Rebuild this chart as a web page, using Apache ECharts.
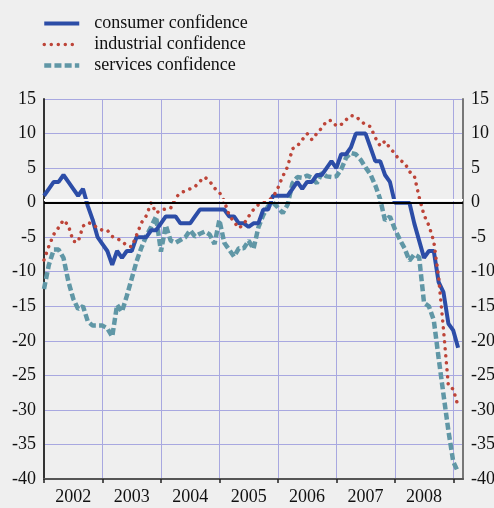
<!DOCTYPE html>
<html>
<head>
<meta charset="utf-8">
<script src="https://cdn.jsdelivr.net/npm/echarts@6/dist/echarts.min.js"></script>
<style>
  html, body { margin: 0; padding: 0; background: #efefef; }
  #chart { width: 494px; height: 508px; }
</style>
</head>
<body>
<div id="chart"></div>
<script>
// Monthly confidence indicators, Jan 2002 onward (balance of responses)
var years = ['2002', '2003', '2004', '2005', '2006', '2007', '2008'];

var consumer = [
  1, 2, 3, 3, 4, 3, 2, 1, 2, -0.5, -2.5, -5,
  -6, -7, -9, -7, -8, -7, -7, -5, -5, -5, -4, -4,
  -3, -2, -2, -2, -3, -3, -3, -2, -1, -1, -1, -1,
  -1, -1, -2, -2, -3, -3, -3.5, -3, -3, -1, -1, 1,
  1, 1, 1, 2, 3, 2, 3, 3, 4, 4, 5, 6,
  5, 7, 7, 8, 10, 10, 10, 8, 6, 6, 4, 3,
  0, 0, 0, 0, -3, -5.5, -8, -7, -7, -11.5, -13, -17.5,
  -18.5, -21
];

var industrial = [
  -8.3, -6.3, -4.6, -3.6, -2.5, -3.3, -5.6, -5.7, -3.4, -2.9, -3.1, -3.7,
  -4.0, -4.0, -4.9, -5.2, -5.6, -6.2, -6.4, -4.7, -2.9, -1.9, 0, -1.5,
  -1.1, -0.9, -0.8, 0.7, 1.4, 1.7, 2.0, 2.3, 3.1, 3.7, 3.1, 2.1,
  1.5, 0.2, -1.8, -2.8, -3.7, -3.1, -2.0, -1.0, -0.3, 0, 0.3, 0.8,
  2.1, 3.8, 5.2, 7.8, 8.2, 9.1, 10, 9.1, 10, 10.8, 11.8, 11.9,
  11.1, 11.3, 12.0, 12.6, 12.5, 11.8, 11.3, 11.0, 9.4, 8.2, 8.9, 7.9,
  7.1, 6.1, 5.8, 4.5, 3.9, 0.8, -1.8, -3.3, -5.6, -10.8, -18.4, -26.5,
  -27, -29.5
];

var services = [
  -12.5, -9.0, -6.8, -6.8, -8.0, -11.4, -13.9, -15.4, -15.0, -17.2, -17.8, -17.8,
  -17.8, -18.2, -19.4, -14.8, -15.8, -13.5, -11.0, -8.5, -6.5, -4.8, -3.5, -2.0,
  -7.1, -3.3, -5.5, -5.8, -5.4, -5.0, -4.0, -4.9, -4.5, -4.2, -4.6, -6.0,
  -2.5, -5.8, -6.8, -7.8, -6.6, -6.6, -5.5, -6.7, -3.6, -1.8, -0.5, 0,
  -0.7, -1.5, -0.3, 2.8, 3.7, 3.6, 3.9, 3.6, 2.8, 4.3, 3.8, 3.7,
  3.8, 4.8, 6.5, 7.2, 7.0, 6.2, 5.1, 4.1, 2.5, 0.5, -2.6, -2.0,
  -3.8, -5.3, -6.6, -8.4, -7.5, -7.9, -14.5, -15.0, -17.0, -22.5, -27.8, -33.0,
  -37.5, -39.0
];

var yTicks = { min: -40, max: 15, step: 5 };

function toPoints(arr) {
  return arr.map(function (v, i) { return [i, v]; });
}

// year boundaries (in months) and mid-year label positions
var yearStarts = years.map(function (y, k) { return k * 12; }).concat([years.length * 12]);
var yearMids = years.map(function (y, k) { return k * 12 + 6; });

var serif = 'Liberation Serif, Times New Roman, serif';
var gridColor = '#a8a8e0';

var chart = echarts.init(document.getElementById('chart'), null, { renderer: 'canvas' });

chart.setOption({
  backgroundColor: '#efefef',
  animation: false,
  grid: { left: 44, right: 31, top: 99, bottom: 29, outerBoundsMode: 'none' },
  legend: {
    orient: 'vertical',
    left: 42,
    top: 13,
    padding: 0,
    itemWidth: 35,
    itemHeight: 21,
    itemGap: 0,
    itemStyle: { opacity: 0 },
    lineStyle: { width: 'inherit' },
    data: ['consumer confidence', 'industrial confidence', 'services confidence'],
    textStyle: { fontFamily: serif, fontSize: 18, color: '#111', padding: [0, 0, 0, 10], lineHeight: 21 }
  },
  xAxis: {
    type: 'value',
    min: 0,
    max: 86,
    axisLine: { show: true, onZero: false, lineStyle: { color: '#555', width: 2 } },
    axisTick: { show: true, customValues: yearStarts, length: 4, lineStyle: { color: '#222', width: 1.5 } },
    axisLabel: {
      customValues: yearMids,
      margin: 9,
      fontFamily: serif, fontSize: 18, color: '#111',
      formatter: function (v) { return years[Math.round((v - 6) / 12)]; }
    },
    splitLine: { show: true, lineStyle: { color: gridColor, width: 1 } }
  },
  yAxis: [
    {
      type: 'value', min: yTicks.min, max: yTicks.max, interval: yTicks.step,
      axisLine: { show: true, lineStyle: { color: '#333', width: 2 } },
      axisTick: { show: false },
      axisLabel: { margin: 8, fontFamily: serif, fontSize: 18, color: '#111' },
      splitLine: { show: true, lineStyle: { color: gridColor, width: 1 } }
    },
    {
      type: 'value', position: 'right', min: yTicks.min, max: yTicks.max, interval: yTicks.step,
      axisLine: { show: true, lineStyle: { color: '#777', width: 2 } },
      axisTick: { show: false },
      axisLabel: { margin: 8, fontFamily: serif, fontSize: 18, color: '#111' },
      splitLine: { show: false }
    }
  ],
  series: [
    {
      name: 'services confidence',
      type: 'line',
      z: 2,
      data: toPoints(services),
      symbol: 'none',
      lineStyle: { color: '#6097a6', width: 4.5, type: [7, 3.2] },
      itemStyle: { color: '#6097a6' },
      markLine: {
        silent: true,
        symbol: 'none',
        z: 10,
        label: { show: false },
        data: [{ yAxis: 0 }],
        lineStyle: { color: '#000', width: 2, type: 'solid', shadowColor: '#ffffff', shadowBlur: 0, shadowOffsetY: -3 }
      }
    },
    {
      name: 'consumer confidence',
      type: 'line',
      z: 3,
      data: toPoints(consumer),
      symbol: 'none',
      lineStyle: { color: '#2c4da7', width: 4 },
      itemStyle: { color: '#2c4da7' }
    },
    {
      name: 'industrial confidence',
      type: 'line',
      z: 4,
      data: toPoints(industrial),
      symbol: 'none',
      lineStyle: { color: '#bd4438', width: 3.5, type: [0.01, 7], cap: 'round' },
      itemStyle: { color: '#bd4438' }
    }
  ]
});
</script>
</body>
</html>
